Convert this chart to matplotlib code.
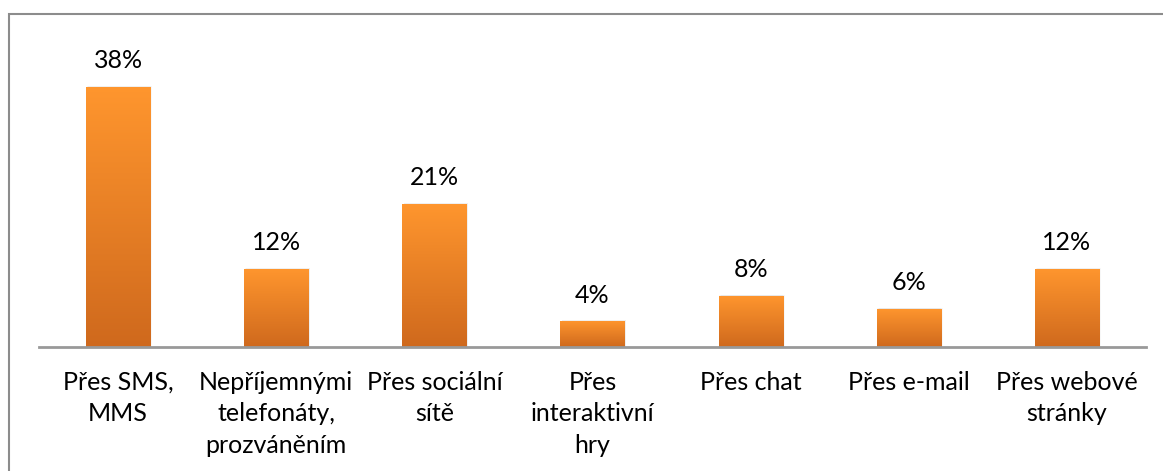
import numpy as np
import matplotlib.pyplot as plt
from matplotlib.patches import Rectangle
from matplotlib.colors import LinearSegmentedColormap

# ---Datos---
kategorie = ['Přes SMS,\nMMS', 'Nepříjemnými\ntelefonáty,\nprozváněním',
             'Přes sociální\nsítě', 'Přes\ninteraktivní\nhry', 'Přes chat',
             'Přes e-mail', 'Přes webové\nstránky']
hodnoty = [38, 11.4, 20.9, 3.8, 7.5, 5.6, 11.4]
popisky = ['38%', '12%', '21%', '4%', '8%', '6%', '12%']

plt.rcParams['font.family'] = ['Lato', 'DejaVu Sans']

fig = plt.figure(figsize=(11.63, 4.71), dpi=100)

# Marco gris alrededor de la figura
fig.patches.append(Rectangle((9 / 1163, -0.05), 1.1, 1 - 14 / 471 + 0.05,
                             transform=fig.transFigure, fill=False,
                             edgecolor='#8c8c8c', linewidth=1.5))

ax = fig.add_axes([39 / 1163, 1 - 347 / 471, 1107 / 1163, 308 / 471])

# Degradado naranja de arriba a abajo
cmap = LinearSegmentedColormap.from_list('oranz', ['#cf691d', '#ff962e'])
grad = np.linspace(0, 1, 256).reshape(-1, 1)
sirka = 0.405

for i, v in enumerate(hodnoty):
    # sombra suave
    for k in range(4):
        ax.add_patch(Rectangle((i - sirka / 2 + 0.004 * k, 0), sirka, v + 0.05 * k,
                               facecolor='black', alpha=0.03, edgecolor='none', zorder=1))
    bar = Rectangle((i - sirka / 2, 0), sirka, v, facecolor='none', edgecolor='none', zorder=2)
    ax.add_patch(bar)
    im = ax.imshow(grad, extent=(i - sirka / 2, i + sirka / 2, 0, v), origin='lower',
                   cmap=cmap, aspect='auto', zorder=2)
    im.set_clip_path(bar)
    ax.text(i, v + 2.7, popisky[i], ha='center', va='baseline', fontsize=18, color='black')

ax.set_xlim(-0.5, len(hodnoty) - 0.5)
ax.set_ylim(0, 45)

for s in ['top', 'right', 'left']:
    ax.spines[s].set_visible(False)
ax.spines['bottom'].set_color('#999999')
ax.spines['bottom'].set_linewidth(2)
ax.set_yticks([])
ax.set_xticks(range(len(kategorie)))
ax.set_xticklabels(kategorie, fontsize=18, linespacing=1.45)
ax.tick_params(axis='x', length=0, pad=17)

fig.savefig('out.png', dpi=100)
